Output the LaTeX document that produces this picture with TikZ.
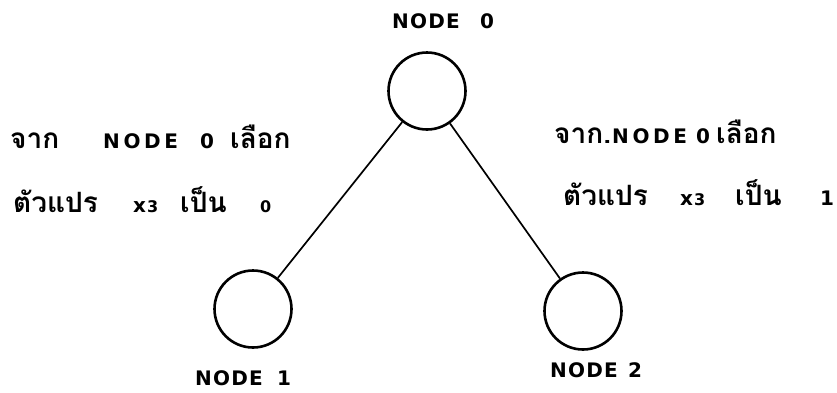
\documentclass[tikz,border=0pt]{standalone}
\usepackage{fontspec}
\newfontfamily\thaifont[Script=Thai]{Loma}
\newfontfamily\lblfont[LetterSpace=6]{DejaVu Sans}
\newfontfamily\inlfont[LetterSpace=18]{DejaVu Sans}
\newcommand{\lbl}{\lblfont\bfseries\fontsize{20}{24}\selectfont}
\newcommand{\inl}{\inlfont\bfseries\fontsize{20}{24}\selectfont}
\newcommand{\smalldigit}[1]{{\lblfont\bfseries\fontsize{16}{18}\selectfont #1}}
\newcommand{\xthree}{{\inl x\hspace{1pt}\smalldigit{3}}}
\newcommand{\seg}[2]{\makebox[#1pt][l]{#2}}
\begin{document}
\begin{tikzpicture}[x=1pt,y=-1pt,
  nodecircle/.style={circle,draw,line width=2.6pt,minimum size=77pt,inner sep=0pt},
  edgeline/.style={line width=1.7pt},
  nodelabel/.style={font=\lbl,inner sep=0pt,anchor=base west},
  thaitext/.style={font=\thaifont\bfseries\fontsize{28}{32}\selectfont,anchor=base west,inner sep=0pt}]
\useasboundingbox[fill=white] (0,0) rectangle (837,392);
\node[nodecircle] (n0) at (427,91) {};
\node[nodecircle] (n1) at (253,309) {};
\node[nodecircle] (n2) at (583,311) {};
\draw[edgeline] (n0) -- (n1);
\draw[edgeline] (n0) -- (n2);
\node[nodelabel] (l0) at (392,28) {\seg{88}{NODE}0};
\node[nodelabel] (l1) at (195,385) {\seg{82}{NODE}1};
\node[nodelabel] (l2) at (550,377) {\seg{78}{NODE}2};
\node[thaitext] (tl1) at (10,148) {\seg{93}{จาก}\seg{97}{\inl NODE}\seg{30}{\inl 0}เลือก};
\node[thaitext] (tl2) at (13,212) {\seg{120}{ตัวแปร}\seg{47}{\xthree}\seg{80}{เป็น}\smalldigit{0}};
\node[thaitext] (tr1) at (554,143) {\seg{58}{จาก.}\seg{84}{\inl NODE}\seg{20}{\inl 0}เลือก};
\node[thaitext] (tr2) at (563,205) {\seg{117}{ตัวแปร}\seg{55}{\xthree}\seg{85}{เป็น}{\inl 1}};
\end{tikzpicture}
\end{document}
